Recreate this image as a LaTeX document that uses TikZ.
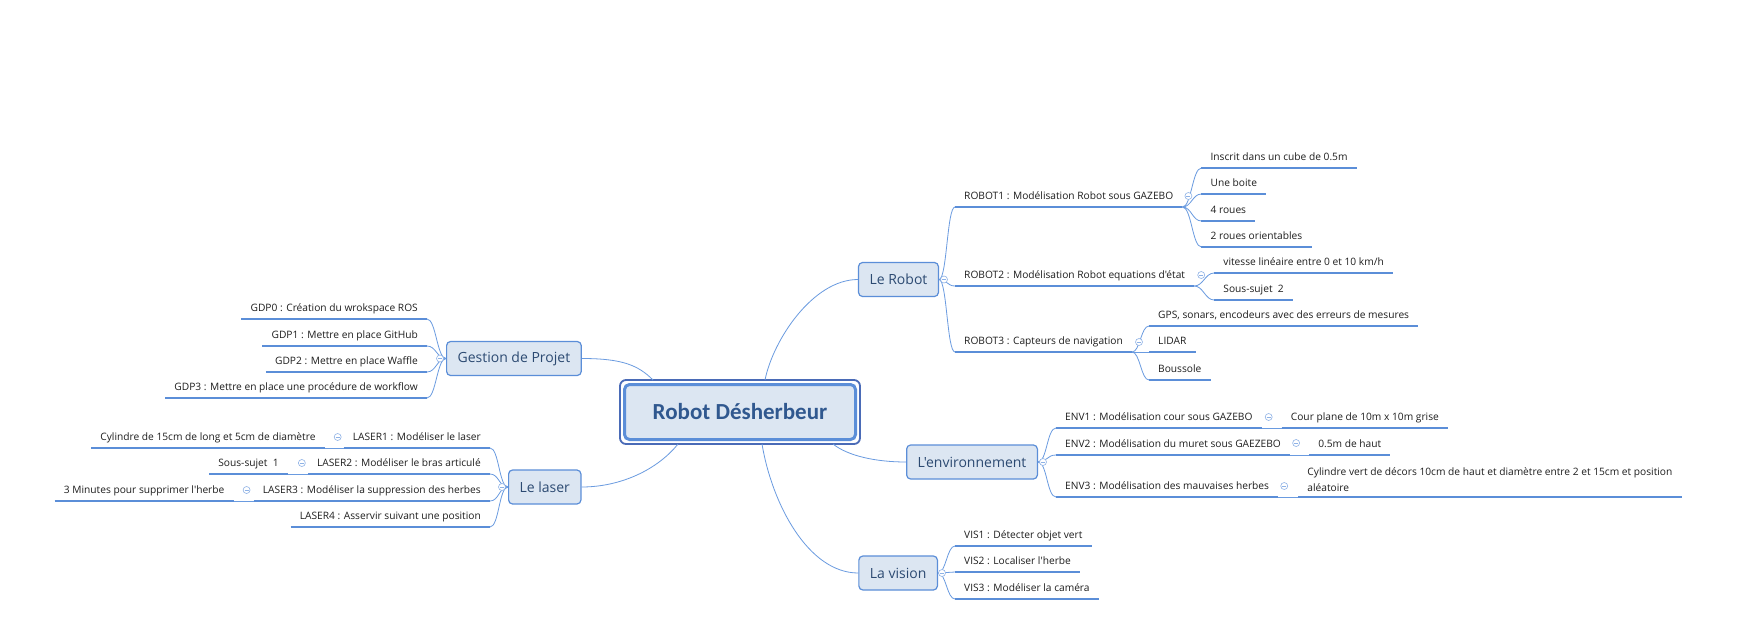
\documentclass[tikz,border=0pt]{standalone}
\usepackage{fontspec}
\setmainfont{Open Sans}[Ligatures=TeXOff]
\newfontfamily\centralfont{Carlito}
\definecolor{ulcol}{HTML}{5B8ED8}
\definecolor{conncol}{HTML}{6A9BE0}
\definecolor{boxfill}{HTML}{DCE6F2}
\definecolor{boxdraw}{HTML}{5B8ED8}
\definecolor{boxtext}{HTML}{2C4A72}
\definecolor{roottext}{HTML}{30588F}
\definecolor{outerb}{HTML}{4A6BB7}
\definecolor{leaftext}{HTML}{1E1E1E}
\definecolor{colcirc}{HTML}{8EB2E6}
\tikzset{
  underl/.style={draw=ulcol, line width=2.3pt},
  conn/.style={draw=conncol, line width=0.8pt},
  leaf/.style={inner xsep=9pt, inner ysep=4.5pt, text height=7.8pt, text depth=2.5pt,
    font=\fontsize{10.2}{12}\selectfont, text=leaftext,
    append after command={(\tikzlastnode.south west) edge[underl] (\tikzlastnode.south east)}},
  leafml/.style={inner xsep=9pt, inner ysep=5pt, align=left,
    font=\fontsize{10.2}{16}\selectfont, text=leaftext,
    append after command={(\tikzlastnode.south west) edge[underl] (\tikzlastnode.south east)}},
  branch/.style={draw=boxdraw, fill=boxfill, line width=1.2pt, rounded corners=4pt,
    minimum height=34pt, inner xsep=11pt, font=\fontsize{14}{16}\selectfont, text=boxtext},
  central/.style={draw=boxdraw, fill=boxfill, line width=3pt, rounded corners=5pt,
    minimum width=231pt, minimum height=55pt,
    font=\centralfont\bfseries\fontsize{23}{26}\selectfont, text=roottext},
  collapse/.style={circle, draw=colcirc, fill=white, line width=0.6pt, minimum size=7pt, inner sep=0pt,
    path picture={\draw[colcirc, line width=0.6pt] ([xshift=-2pt]path picture bounding box.center) -- ([xshift=2pt]path picture bounding box.center);}}
}
\begin{document}
\begin{tikzpicture}[x=1pt,y=-1pt]
\useasboundingbox[fill=white] (0,0) rectangle (1751,630);

% root
\node[central] (root) at (740,412) {Robot Désherbeur};
\draw[line width=1.8pt, draw=outerb, rounded corners=6pt]
  ([shift={(-3pt,3pt)}]root.north west) rectangle ([shift={(3pt,-3pt)}]root.south east);

% branches
\node[branch, anchor=east] (robot) at (939,279.5) {Le Robot};
\node[branch, anchor=west] (gdp) at (446,358.5) {Gestion de Projet};
\node[branch, anchor=west] (laser) at (508,487) {Le laser};
\node[branch, anchor=east] (env) at (1038,462) {L'environnement};
\node[branch, anchor=east] (vis) at (938,573) {La vision};

% root connectors
\draw[conn] (gdp.east) .. controls +(40,0) and +(-15,-15) .. ([xshift=30pt,yshift=3pt]root.north west);
\draw[conn] ([xshift=142pt,yshift=3pt]root.north west) .. controls +(8,-40) and +(-45,0) .. (robot.west);
\draw[conn] ([xshift=55pt,yshift=-3pt]root.south west) .. controls +(-20,25) and +(40,0) .. (laser.east);
\draw[conn] ([xshift=210pt,yshift=-3pt]root.south west) .. controls +(15,12) and +(-30,0) .. (env.west);
\draw[conn] ([xshift=139pt,yshift=-3pt]root.south west) .. controls +(10,60) and +(-50,0) .. (vis.west);

% Le Robot
\node[leaf, anchor=south west] (r1) at (955,207) {ROBOT1 : Modélisation Robot sous GAZEBO};
\node[leaf, anchor=south west] (r2) at (955,286) {ROBOT2 : Modélisation Robot equations d'état};
\node[leaf, anchor=south west] (r3) at (955,352) {ROBOT3 : Capteurs de navigation};
\node[leaf, anchor=south west] (r1a) at ([shift={(19,-39)}]r1.south east) {Inscrit dans un cube de 0.5m};
\node[leaf, anchor=south west] (r1b) at ([shift={(19,-13)}]r1.south east) {Une boite};
\node[leaf, anchor=south west] (r1c) at ([shift={(19,14)}]r1.south east) {4 roues};
\node[leaf, anchor=south west] (r1d) at ([shift={(19,40)}]r1.south east) {2 roues orientables};
\node[leaf, anchor=south west] (r2a) at ([shift={(20,-13)}]r2.south east) {vitesse linéaire entre 0 et 10 km/h};
\node[leaf, anchor=south west] (r2b) at ([shift={(20,14)}]r2.south east) {Sous-sujet\ \ 2};
\node[leaf, anchor=south west] (r3a) at ([shift={(17,-26)}]r3.south east) {GPS, sonars, encodeurs avec des erreurs de mesures};
\node[leaf, anchor=south west] (r3b) at ([shift={(17,0)}]r3.south east) {LIDAR};
\node[leaf, anchor=south west] (r3c) at ([shift={(17,28)}]r3.south east) {Boussole};
\foreach \c in {r1,r2,r3}
  \draw[conn] (robot.east) .. controls +(8,0) and +(-8,0) .. (\c.south west);
\foreach \c in {r1a,r1b,r1c,r1d}
  \draw[conn] (r1.south east) .. controls +(9,0) and +(-9,0) .. (\c.south west);
\foreach \c in {r2a,r2b}
  \draw[conn] (r2.south east) .. controls +(9,0) and +(-9,0) .. (\c.south west);
\foreach \c in {r3a,r3b,r3c}
  \draw[conn] (r3.south east) .. controls +(8,0) and +(-8,0) .. (\c.south west);

% Gestion de projet
\node[leaf, anchor=south east] (g0) at (427,319) {GDP0 : Création du wrokspace ROS};
\node[leaf, anchor=south east] (g1) at (427,346) {GDP1 : Mettre en place GitHub};
\node[leaf, anchor=south east] (g2) at (427,372) {GDP2 : Mettre en place Waffle};
\node[leaf, anchor=south east] (g3) at (427,398) {GDP3 : Mettre en place une procédure de workflow};
\foreach \c in {g0,g1,g2,g3}
  \draw[conn] (gdp.west) .. controls +(-9,0) and +(9,0) .. (\c.south east);

% Le laser
\node[leaf, anchor=south east] (l1) at (490,448) {LASER1 : Modéliser le laser};
\node[leaf, anchor=south east] (l2) at (490,474) {LASER2 : Modéliser le bras articulé};
\node[leaf, anchor=south east] (l3) at (490,501) {LASER3 : Modéliser la suppression des herbes};
\node[leaf, anchor=south east] (l4) at (490,527) {LASER4 : Asservir suivant une position};
\node[leaf, anchor=south east] (l1a) at ([xshift=-19pt]l1.south west) {Cylindre de 15cm de long et 5cm de diamètre};
\node[leaf, anchor=south east] (l2a) at ([xshift=-20pt]l2.south west) {Sous-sujet\ \ 1};
\node[leaf, anchor=south east] (l3a) at ([xshift=-20pt]l3.south west) {3 Minutes pour supprimer l'herbe};
\foreach \c in {l1,l2,l3,l4}
  \draw[conn] (laser.west) .. controls +(-9,0) and +(9,0) .. (\c.south east);
\draw[conn] (l1.south west) -- (l1a.south east);
\draw[conn] (l2.south west) -- (l2a.south east);
\draw[conn] (l3.south west) -- (l3a.south east);

% Environnement
\node[leaf, anchor=south west] (e1) at (1056,428) {ENV1 : Modélisation cour sous GAZEBO};
\node[leaf, anchor=south west] (e2) at (1056,455) {ENV2 : Modélisation du muret sous GAEZEBO};
\node[leaf, anchor=south west] (e3) at (1056,497) {ENV3 : Modélisation des mauvaises herbes};
\node[leaf, anchor=south west] (e1a) at ([xshift=20pt]e1.south east) {Cour plane de 10m x 10m grise};
\node[leaf, anchor=south west] (e2a) at ([xshift=19pt]e2.south east) {0.5m de haut};
\node[leafml, anchor=south west] (e3a) at ([xshift=20pt]e3.south east) {Cylindre vert de décors 10cm de haut et diamètre entre 2 et 15cm et position\\aléatoire};
\foreach \c in {e1,e2,e3}
  \draw[conn] (env.east) .. controls +(9,0) and +(-9,0) .. (\c.south west);
\draw[conn] (e1.south east) -- (e1a.south west);
\draw[conn] (e2.south east) -- (e2a.south west);
\draw[conn] (e3.south east) -- (e3a.south west);

% Vision
\node[leaf, anchor=south west] (v1) at (955,546) {VIS1 : Détecter objet vert};
\node[leaf, anchor=south west] (v2) at (955,572) {VIS2 : Localiser l'herbe};
\node[leaf, anchor=south west] (v3) at (955,599) {VIS3 : Modéliser la caméra};
\foreach \c in {v1,v2,v3}
  \draw[conn] (vis.east) .. controls +(8,0) and +(-8,0) .. (\c.south west);

% collapse markers
\node[collapse] (k1) at ([xshift=5pt]robot.east) {};
\node[collapse] (k2) at ([xshift=-6pt]gdp.west) {};
\node[collapse] (k3) at ([xshift=-6pt]laser.west) {};
\node[collapse] (k4) at ([xshift=5pt]env.east) {};
\node[collapse] (k5) at ([xshift=4pt]vis.east) {};
\node[collapse] (k6) at ([shift={(6pt,11pt)}]r1.south east) {};
\node[collapse] (k7) at ([shift={(7pt,11pt)}]r2.south east) {};
\node[collapse] (k8) at ([shift={(7pt,10pt)}]r3.south east) {};
\node[collapse] (k9) at ([shift={(-6pt,11pt)}]l1.south west) {};
\node[collapse] (k10) at ([shift={(-6pt,11pt)}]l2.south west) {};
\node[collapse] (k11) at ([shift={(-7pt,11pt)}]l3.south west) {};
\node[collapse] (k12) at ([shift={(7pt,11pt)}]e1.south east) {};
\node[collapse] (k13) at ([shift={(6pt,12pt)}]e2.south east) {};
\node[collapse] (k14) at ([shift={(6pt,11pt)}]e3.south east) {};
\end{tikzpicture}
\end{document}
